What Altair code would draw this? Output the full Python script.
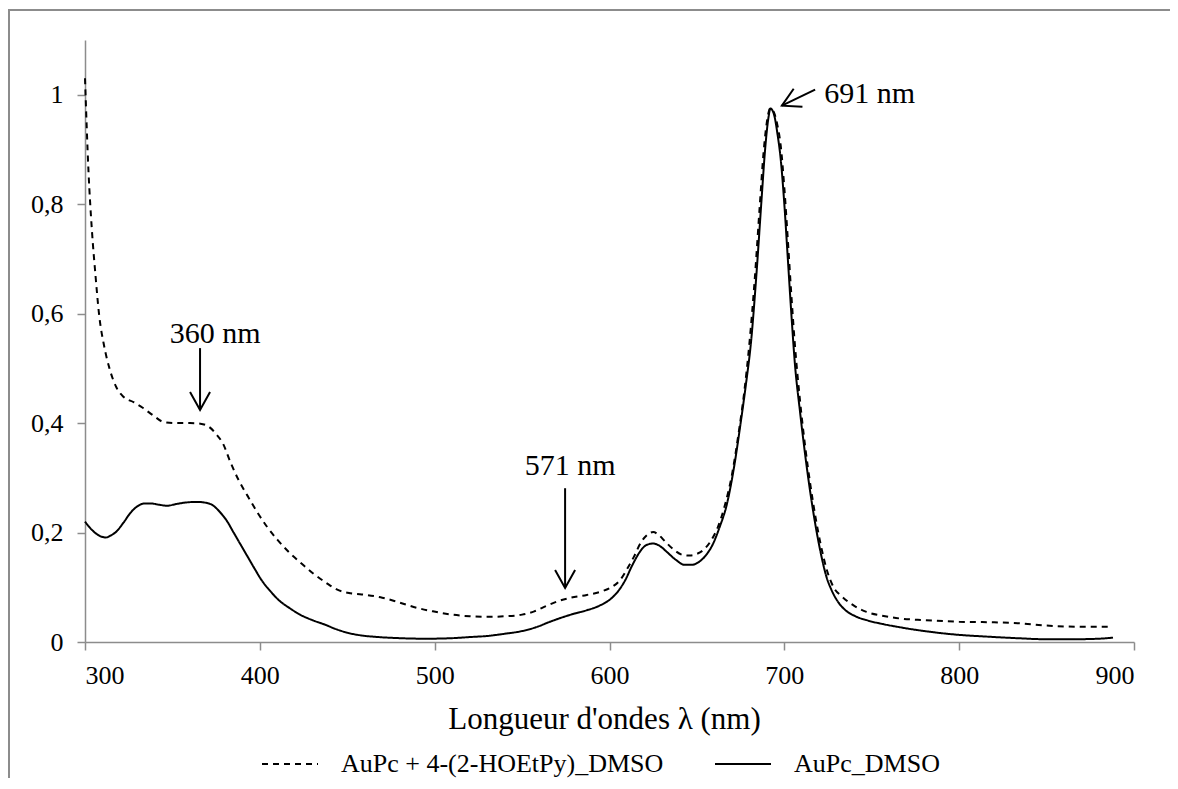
import altair as alt
import pandas as pd

# ---------------- data ----------------
SERIES_DASH = "AuPc + 4-(2-HOEtPy)_DMSO"
SERIES_SOLID = "AuPc_DMSO"

dash_wl = [300, 302, 304, 306, 308, 311, 314, 318, 322, 328, 333, 339, 345, 352, 360, 366, 371,
           375, 379, 383, 388, 393, 398, 404, 410, 417, 424, 431, 438, 444, 452, 461, 470, 478,
           488, 499, 510, 520, 530, 540, 550, 557, 564, 571, 578, 587, 595, 601, 606, 610, 614,
           618, 622, 625, 628, 632, 637, 642, 646, 650, 654, 658, 662, 666, 670, 674, 677, 680,
           683, 686, 688, 690, 692, 694, 696, 698, 700, 702, 704, 706, 709, 712, 715, 718, 721,
           724, 728, 733, 740, 747, 756, 766, 780, 800, 820, 835, 850, 870, 887]
dash_abs = [1.03, 0.86, 0.75, 0.67, 0.60, 0.54, 0.50, 0.465, 0.448, 0.438, 0.428, 0.414, 0.402,
            0.400, 0.400, 0.399, 0.393, 0.380, 0.362, 0.330, 0.295, 0.267, 0.240, 0.211, 0.187,
            0.163, 0.143, 0.124, 0.108, 0.096, 0.089, 0.086, 0.081, 0.074, 0.064, 0.056, 0.050,
            0.047, 0.046, 0.047, 0.050, 0.056, 0.066, 0.075, 0.081, 0.086, 0.092, 0.100, 0.113,
            0.133, 0.156, 0.182, 0.197, 0.201, 0.196, 0.183, 0.168, 0.159, 0.158, 0.161, 0.169,
            0.185, 0.210, 0.250, 0.305, 0.385, 0.455, 0.545, 0.660, 0.800, 0.890, 0.950, 0.975,
            0.968, 0.945, 0.905, 0.830, 0.735, 0.635, 0.545, 0.440, 0.355, 0.285, 0.225, 0.175,
            0.135, 0.101, 0.083, 0.066, 0.055, 0.048, 0.043, 0.040, 0.037, 0.036, 0.034, 0.030,
            0.028, 0.028]

solid_wl = [300, 303, 306, 309, 312, 315, 318, 322, 326, 330, 334, 338, 342, 347, 352, 358, 364,
            368, 373, 377, 381, 385, 389, 393, 397, 401, 406, 411, 417, 423, 430, 437, 444, 450,
            458, 468, 480, 495, 510, 520, 530, 540, 550, 558, 566, 573, 580, 587, 594, 600, 605,
            609, 613, 617, 621, 625, 629, 633, 638, 643, 647, 651, 655, 659, 663, 667, 671, 675,
            678, 681, 684, 687, 689, 691, 692, 694, 696, 698, 700, 702, 704, 706, 709, 712, 715,
            718, 721, 724, 727, 731, 735, 740, 748, 756, 766, 780, 800, 815, 833, 850, 865, 880,
            888]
solid_abs = [0.220, 0.208, 0.199, 0.193, 0.191, 0.195, 0.202, 0.218, 0.236, 0.248, 0.253, 0.253,
             0.251, 0.249, 0.252, 0.255, 0.256, 0.255, 0.250, 0.238, 0.222, 0.200, 0.178, 0.156,
             0.134, 0.113, 0.093, 0.076, 0.062, 0.050, 0.040, 0.032, 0.023, 0.017, 0.012, 0.009,
             0.007, 0.006, 0.007, 0.009, 0.011, 0.015, 0.020, 0.027, 0.037, 0.045, 0.052, 0.058,
             0.066, 0.077, 0.093, 0.113, 0.140, 0.163, 0.177, 0.180, 0.175, 0.164, 0.150, 0.141,
             0.141, 0.146, 0.158, 0.178, 0.210, 0.250, 0.315, 0.400, 0.470, 0.550, 0.670, 0.810,
             0.900, 0.960, 0.975, 0.965, 0.930, 0.880, 0.800, 0.700, 0.600, 0.510, 0.420, 0.340,
             0.270, 0.210, 0.160, 0.120, 0.095, 0.072, 0.058, 0.048, 0.039, 0.033, 0.027, 0.020,
             0.013, 0.010, 0.007, 0.005, 0.005, 0.006, 0.008]

x_ticks = [300, 400, 500, 600, 700, 800, 900]
y_ticks = [0, 0.2, 0.4, 0.6, 0.8, 1.0]

# annotations: label text and positions (data units)
ann_text = ["360 nm", "571 nm", "691 nm"]
ann_text_x = [374.4, 577.5, 722.8]
ann_text_y = [0.546, 0.305, 0.9845]
ann_align = ["center", "center", "left"]
arrow_x1 = [365.8, 574.6, 717.6]
arrow_y1 = [0.537, 0.281, 1.0095]
arrow_x2 = [365.8, 574.6, 698.6]
arrow_y2 = [0.424, 0.0986, 0.980]
arrow_angle = [0, 0, 64]

# ---------------- build tables ----------------
df = pd.concat([
    pd.DataFrame({"wl": dash_wl, "abs": dash_abs, "series": SERIES_DASH}),
    pd.DataFrame({"wl": solid_wl, "abs": solid_abs, "series": SERIES_SOLID}),
])
ann = pd.DataFrame({"text": ann_text, "tx": ann_text_x, "ty": ann_text_y, "align": ann_align,
                    "x1": arrow_x1, "y1": arrow_y1, "x2": arrow_x2, "y2": arrow_y2,
                    "angle": arrow_angle})

W, H = 1049, 602
PAD_L, PAD_T, PAD_R, PAD_B = 77, 32, 36, 136
FONT = "Liberation Serif"
GRAY = "#8c8c8c"

xscale = alt.Scale(domain=[300, 900], nice=False, zero=False)
yscale = alt.Scale(domain=[0, 1.1], nice=False)

lines = alt.Chart(df).mark_line(color="black", strokeWidth=2, interpolate="monotone").encode(
    x=alt.X("wl:Q", scale=xscale,
            axis=alt.Axis(values=x_ticks, title="Longueur d'ondes λ (nm)", grid=False,
                          tickSize=8, tickColor=GRAY, tickWidth=1.5, domainColor=GRAY,
                          domainWidth=1.5, labelFont=FONT, labelFontSize=26, labelColor="black",
                          labelPadding=12, titleFont=FONT, titleFontSize=31,
                          titleFontWeight="normal", titleColor="black",
                          titleBaseline="alphabetic", titleX=519, titleY=86)),
    y=alt.Y("abs:Q", scale=yscale,
            axis=alt.Axis(values=y_ticks, title=None, grid=False, tickSize=8, tickColor=GRAY,
                          tickWidth=1.5, domainColor=GRAY, domainWidth=1.5, labelFont=FONT,
                          labelFontSize=26, labelColor="black", labelPadding=14,
                          labelExpr="replace(format(datum.value, '.1~f'), '.', ',')")),
    strokeDash=alt.StrokeDash("series:N",
                              scale=alt.Scale(domain=[SERIES_DASH, SERIES_SOLID],
                                              range=[[6, 5], [1, 0]]),
                              legend=alt.Legend(title=None, orient="none", direction="horizontal",
                                                legendX=176, legendY=695)),
    detail="series:N",
)

arrows = alt.Chart(ann).mark_rule(color="black", strokeWidth=2).encode(
    x="x1:Q", y="y1:Q", x2="x2:Q", y2="y2:Q")

heads = alt.Chart(ann).mark_point(
    shape="M -1 -1.8 L 0 0 L 1 -1.8", filled=False, color="black", strokeWidth=2,
    size=400, opacity=1).encode(x="x2:Q", y="y2:Q", angle=alt.Angle("angle:Q", scale=None))

labels_c = alt.Chart(ann[ann["align"] == "center"]).mark_text(
    font=FONT, fontSize=30, color="black", align="center", baseline="alphabetic").encode(
    x="tx:Q", y="ty:Q", text="text:N")
labels_l = alt.Chart(ann[ann["align"] == "left"]).mark_text(
    font=FONT, fontSize=30, color="black", align="left", baseline="alphabetic").encode(
    x="tx:Q", y="ty:Q", text="text:N")

frame_src = pd.DataFrame({"k": [0]})
frame_left = alt.Chart(frame_src).mark_rule(color=GRAY, strokeWidth=2).encode(
    x=alt.value(-PAD_L + 1), y=alt.value(-PAD_T + 2), y2=alt.value(H + PAD_B))
frame_top = alt.Chart(frame_src).mark_rule(color=GRAY, strokeWidth=2).encode(
    x=alt.value(-PAD_L), x2=alt.value(W + PAD_R), y=alt.value(-PAD_T + 2))

chart = alt.layer(frame_left, frame_top, lines, arrows, heads, labels_c, labels_l).properties(
    width=W, height=H,
    autosize=alt.AutoSizeParams(type="none"),
    padding={"left": PAD_L, "top": PAD_T, "right": PAD_R, "bottom": PAD_B},
).configure_view(stroke=None).configure_legend(
    labelFont=FONT, labelFontSize=26, labelColor="black", labelLimit=600, labelOffset=22,
    symbolType="stroke", symbolSize=3136, symbolStrokeWidth=2, symbolStrokeColor="black",
    columnPadding=47, padding=0,
)

chart.save("out.html", embed_options={"renderer": "svg", "actions": False})
